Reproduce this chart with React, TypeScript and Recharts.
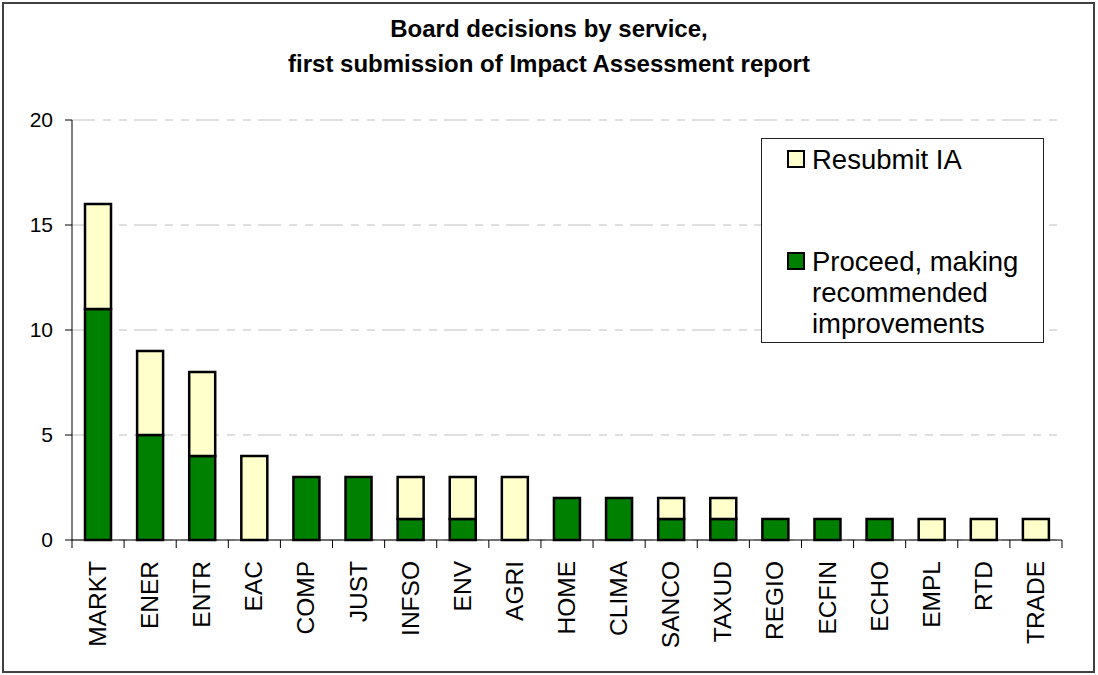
import React from 'react';
import {
  BarChart,
  Bar,
  XAxis,
  YAxis,
  CartesianGrid,
  Legend,
} from 'recharts';

const services = [
  'MARKT', 'ENER', 'ENTR', 'EAC', 'COMP', 'JUST', 'INFSO', 'ENV', 'AGRI', 'HOME',
  'CLIMA', 'SANCO', 'TAXUD', 'REGIO', 'ECFIN', 'ECHO', 'EMPL', 'RTD', 'TRADE',
];
const proceed = [11, 5, 4, 0, 3, 3, 1, 1, 0, 2, 2, 1, 1, 1, 1, 1, 0, 0, 0];
const resubmit = [5, 4, 4, 4, 0, 0, 2, 2, 3, 0, 0, 1, 1, 0, 0, 0, 1, 1, 1];
const yTicks = [0, 5, 10, 15, 20];
const titleLines = ['Board decisions by service,', 'first submission of Impact Assessment report'];
const seriesNames = {
  proceed: 'Proceed, making recommended improvements',
  resubmit: 'Resubmit IA',
};

const data = services.map((service, i) => ({
  service,
  proceed: proceed[i],
  resubmit: resubmit[i],
}));

const FONT = '"Liberation Sans", Arial, sans-serif';
const GREEN = '#008000';
const YELLOW = '#FFFFCC';
const W = 1098;
const H = 675;
const PLOT_LEFT = 72;
const PLOT_RIGHT = 1062;
const BAND = (PLOT_RIGHT - PLOT_LEFT) / services.length;

interface TickProps {
  x?: number;
  y?: number;
  index?: number;
  payload?: { value: string };
}

// category label rotated, plus Excel style tick marks between categories
const ServiceTick = ({ x = 0, y = 0, index = 0, payload }: TickProps) => {
  const left = x - BAND / 2;
  return (
    <g>
      <line x1={left} y1={y} x2={left} y2={y + 8} stroke="#000" />
      {index === services.length - 1 && (
        <line x1={x + BAND / 2} y1={y} x2={x + BAND / 2} y2={y + 8} stroke="#000" />
      )}
      <text
        transform={`translate(${x + 8}, ${y + 21}) rotate(-90)`}
        textAnchor="end"
        fontSize={24.5}
        fontFamily={FONT}
        fill="#000"
      >
        {payload?.value}
      </text>
    </g>
  );
};

interface LegendEntry {
  value: string;
  color?: string;
}

const BoxLegend = ({ payload }: { payload?: LegendEntry[] }) => {
  if (!payload) return null;
  const items = [...payload].reverse();
  return (
    <div
      style={{
        width: 283,
        height: 205,
        boxSizing: 'border-box',
        border: '1px solid #222',
        background: '#fff',
        fontFamily: FONT,
        fontSize: 27.5,
        lineHeight: '31px',
        color: '#000',
        position: 'relative',
      }}
    >
      {items.map((entry, i) => (
        <div
          key={entry.value}
          style={{
            position: 'absolute',
            left: 0,
            top: i === 0 ? 4.5 : 106.5,
            paddingLeft: 50,
            width: 228,
          }}
        >
          <span
            style={{
              position: 'absolute',
              left: 25,
              top: 6.5,
              width: 18,
              height: 18,
              boxSizing: 'border-box',
              border: '2px solid #000',
              background: entry.color,
            }}
          />
          {entry.value}
        </div>
      ))}
    </div>
  );
};

export default function App() {
  return (
    <div style={{ position: 'absolute', left: 0, top: 0, width: W, height: H, background: '#fff' }}>
      <svg width={W} height={H} style={{ position: 'absolute', left: 0, top: 0 }}>
        <rect x={3} y={3} width={1091} height={669} fill="none" stroke="#404040" strokeWidth={2} />
        {titleLines.map((line, i) => (
          <text
            key={line}
            x={549}
            y={37 + i * 35}
            textAnchor="middle"
            fontFamily={FONT}
            fontWeight="bold"
            fontSize={24}
            fill="#000"
          >
            {line}
          </text>
        ))}
      </svg>
      <div style={{ position: 'absolute', left: 0, top: 0 }}>
        <BarChart
          width={W}
          height={H}
          data={data}
          margin={{ top: 120, right: W - PLOT_RIGHT, bottom: 0, left: 12 }}
        >
          <CartesianGrid
            horizontal
            vertical={false}
            stroke="#c0c0c0"
            strokeDasharray="23 8 8 8 8 7"
          />
          <XAxis
            dataKey="service"
            height={135}
            interval={0}
            axisLine={{ stroke: '#000' }}
            tickLine={false}
            tickSize={0}
            tickMargin={0}
            tick={<ServiceTick />}
          />
          <YAxis
            width={60}
            domain={[0, 20]}
            ticks={yTicks}
            interval={0}
            axisLine={{ stroke: '#000' }}
            tickLine={{ stroke: '#000' }}
            tickSize={7}
            tickMargin={12}
            tick={{ fill: '#000', fontSize: 21, fontFamily: FONT }}
          />
          <Legend
            layout="vertical"
            align="center"
            verticalAlign="middle"
            wrapperStyle={{ left: 761, top: 138, width: 283, height: 205 }}
            content={<BoxLegend />}
          />
          <Bar
            dataKey="proceed"
            name={seriesNames.proceed}
            stackId="a"
            fill={GREEN}
            stroke="#000"
            strokeWidth={2.5}
            barSize={26}
            isAnimationActive={false}
          />
          <Bar
            dataKey="resubmit"
            name={seriesNames.resubmit}
            stackId="a"
            fill={YELLOW}
            stroke="#000"
            strokeWidth={2.5}
            barSize={26}
            isAnimationActive={false}
          />
        </BarChart>
      </div>
    </div>
  );
}
